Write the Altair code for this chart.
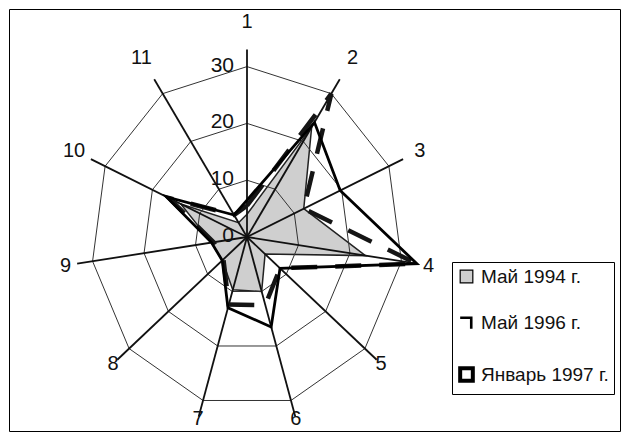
import math
import altair as alt
import pandas as pd

# ---------------- data ----------------
axis_labels = ["1", "2", "3", "4", "5", "6", "7", "8", "9", "10", "11"]
series_names = ["Май 1994 г.", "Май 1996 г.", "Январь 1997 г."]
may_1994 = [4, 23, 12, 23, 4.6, 10, 9.7, 6.3, 6.9, 14, 3]
may_1996 = [5.5, 30, 12, 33, 8.4, 12.5, 12.4, 6, 6.5, 16.5, 4.6]
jan_1997 = [6.5, 24, 19.7, 33, 8.4, 16.5, 13, 6.3, 6.9, 17, 4.6]
grid_levels = [10, 20, 30]
tick_values = [0, 10, 20, 30]
tick_labels = ["0", "10", "20", "30"]

# ---------------- layout constants ----------------
FONT = "Liberation Sans"
PAD = 1
W, H = 611, 422
CX, CY = 238, 228            # centre of the radar inside the plot area (px)
SX, SY = 5.2, 5.68           # px per unit horizontally / vertically
SPOKE_R = 33                 # length of the spokes (units)
LABEL_R0, LABEL_R1 = 35.6, 2.3   # label radius = R0 + R1*cos(angle)

xs = alt.Scale(domain=[-CX / SX, (W - CX) / SX], nice=False, zero=False)
ys = alt.Scale(domain=[-(H - CY) / SY, CY / SY], nice=False, zero=False)

n = len(axis_labels)
ang = [2 * math.pi * i / n for i in range(n)]


def polygon(values, **extra):
    rows = []
    for k in range(n + 1):
        i = k % n
        r = dict(order=k, x=values[i] * math.sin(ang[i]), y=values[i] * math.cos(ang[i]))
        r.update(extra)
        rows.append(r)
    return rows


df_94 = pd.DataFrame(polygon(may_1994, series=series_names[0]))
df_96 = pd.DataFrame(polygon(may_1996, series=series_names[1]))
df_97 = pd.DataFrame(polygon(jan_1997, series=series_names[2]))

ring_rows = []
for lv in grid_levels:
    ring_rows += polygon([lv] * n, level=lv)
df_rings = pd.DataFrame(ring_rows)

df_spokes = pd.DataFrame({
    "x0": [0.0] * n, "y0": [0.0] * n,
    "x1": [SPOKE_R * math.sin(a) for a in ang],
    "y1": [SPOKE_R * math.cos(a) for a in ang],
})

lab_r = [LABEL_R0 + LABEL_R1 * math.cos(a) for a in ang]
df_axlab = pd.DataFrame({
    "label": axis_labels,
    "x": [r * math.sin(a) for r, a in zip(lab_r, ang)],
    "y": [r * math.cos(a) for r, a in zip(lab_r, ang)],
})

df_ticks = pd.DataFrame({"x": [0.0] * len(tick_values), "y": tick_values, "label": tick_labels})

X = lambda f: alt.X(f, scale=xs, axis=None)
Y = lambda f: alt.Y(f, scale=ys, axis=None)

gray = alt.Chart(df_94).mark_line(fill="#cfcfcf", stroke="#222222", strokeWidth=1.5).encode(
    x=X("x:Q"), y=Y("y:Q"), order="order:Q")

rings = alt.Chart(df_rings).mark_line(stroke="#333333", strokeWidth=1).encode(
    x=X("x:Q"), y=Y("y:Q"), detail="level:N", order="order:Q")

spokes = alt.Chart(df_spokes).mark_rule(color="#111111", strokeWidth=1.8).encode(
    x=X("x0:Q"), y=Y("y0:Q"), x2="x1:Q", y2="y1:Q")

dashed = alt.Chart(df_96).mark_line(stroke="#151515", strokeWidth=4.5, strokeDash=[26, 18]).encode(
    x=X("x:Q"), y=Y("y:Q"), order="order:Q")

solid = alt.Chart(df_97).mark_line(stroke="#000000", strokeWidth=2.8).encode(
    x=X("x:Q"), y=Y("y:Q"), order="order:Q")

ticks = alt.Chart(df_ticks).mark_text(
    align="right", baseline="middle", dx=-13, dy=-1, fontSize=21, font=FONT, color="#111111"
).encode(x=X("x:Q"), y=Y("y:Q"), text="label:N")

axlab = alt.Chart(df_axlab).mark_text(
    align="center", baseline="middle", fontSize=20, font=FONT, color="#111111"
).encode(x=X("x:Q"), y=Y("y:Q"), text="label:N")

legend = alt.Legend(
    title=None, orient="none", legendX=443, legendY=253,
    strokeColor="black", fillColor="white", padding=5,
    labelFontSize=19, labelFont=FONT, labelColor="#111111",
    rowPadding=25, symbolSize=160, labelOffset=5,
)
df_leg = pd.DataFrame({"series": pd.Series([], dtype="object")})
leg = alt.Chart(df_leg).mark_point(stroke="black", opacity=1).encode(
    shape=alt.Shape("series:N", sort=series_names, legend=legend,
                    scale=alt.Scale(domain=series_names,
                                    range=["square", "M-1,-0.75H0.75V1", "square"])),
    fill=alt.Fill("series:N", sort=series_names, legend=legend,
                  scale=alt.Scale(domain=series_names,
                                  range=["#cfcfcf", "transparent", "white"])),
    strokeWidth=alt.StrokeWidth("series:N", sort=series_names, legend=legend,
                                scale=alt.Scale(domain=series_names, range=[1.2, 4, 3])),
)

chart = alt.layer(gray, rings, spokes, dashed, solid, ticks, axlab, leg).properties(
    width=W, height=H, autosize="none", background="white",
    padding={"left": PAD, "top": PAD, "right": PAD, "bottom": PAD},
).configure_view(stroke="black", strokeWidth=1)

chart.save("out.html", embed_options={"renderer": "svg", "actions": False})
